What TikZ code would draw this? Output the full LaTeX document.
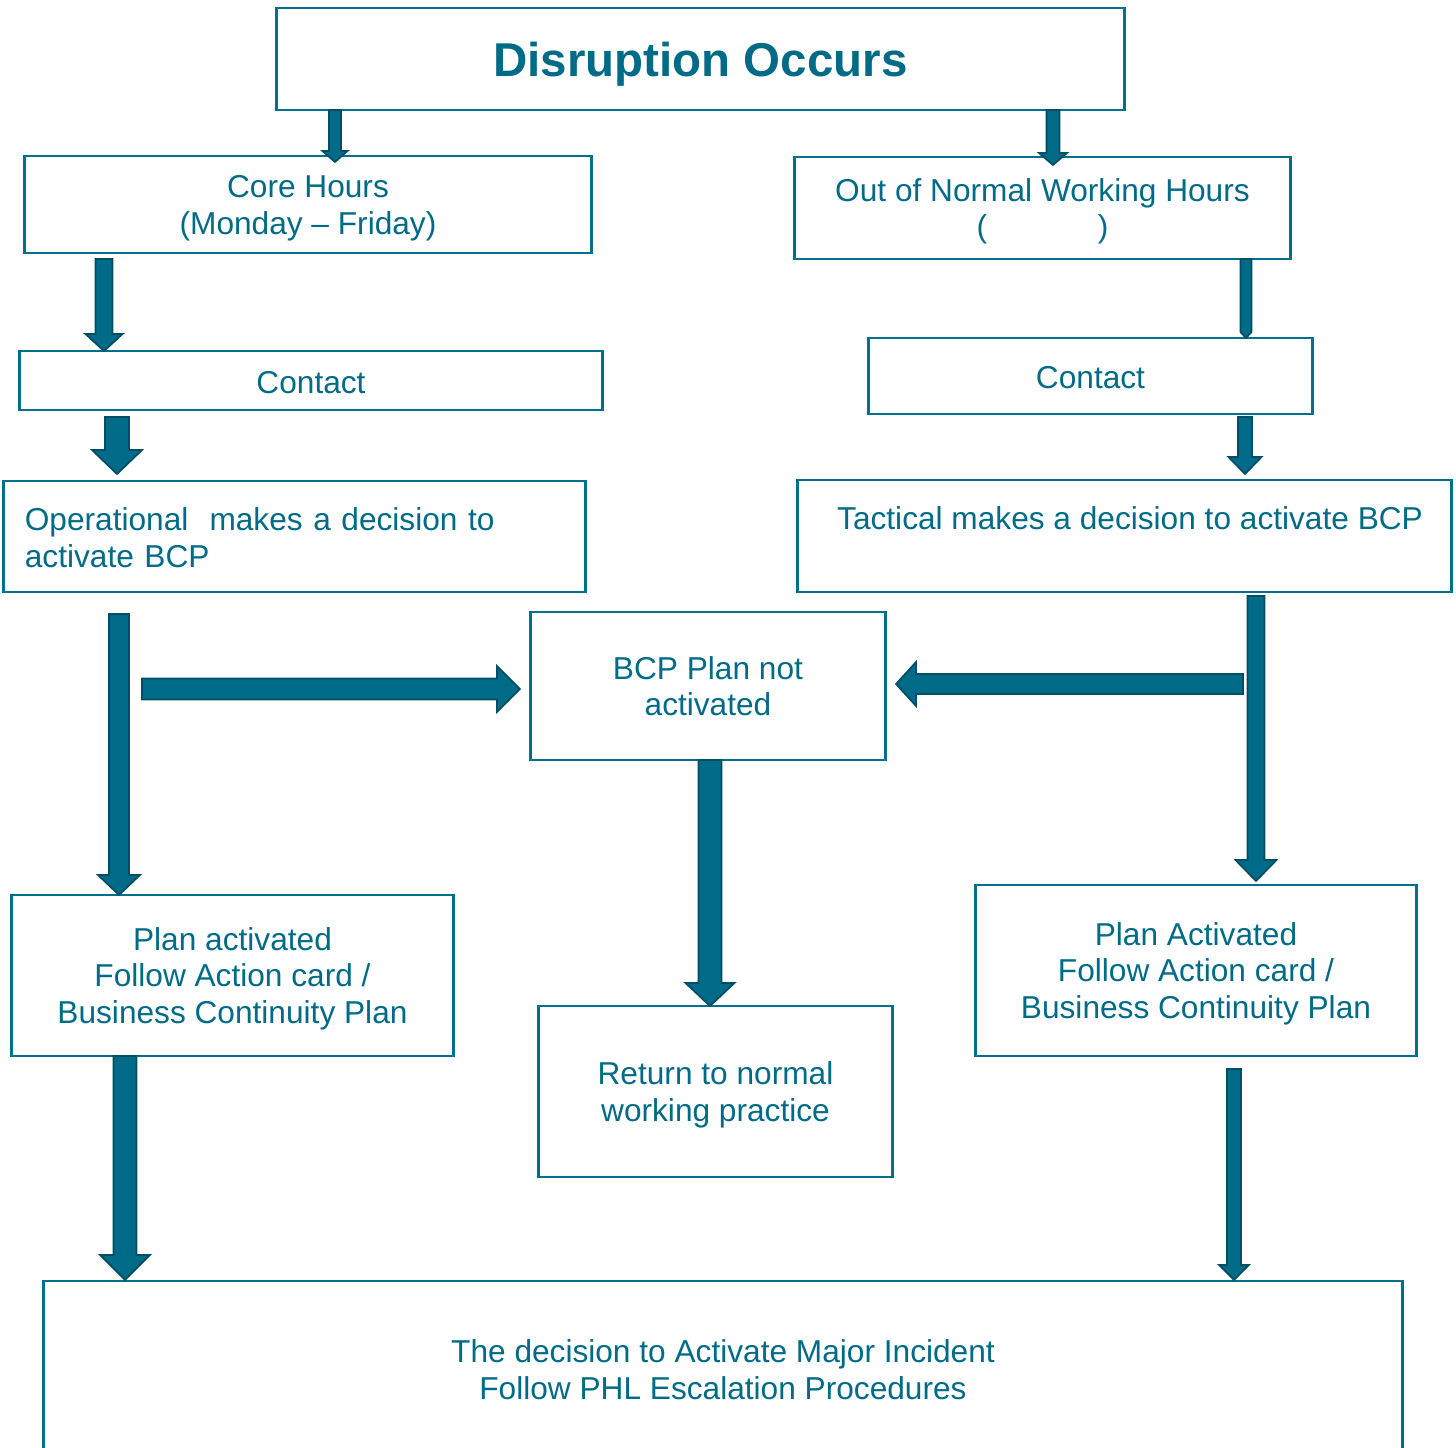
\documentclass[tikz,border=0pt]{standalone}
\usepackage{fontspec}
\setmainfont{Liberation Sans}
\usetikzlibrary{calc}
\definecolor{fline}{RGB}{0,112,140}
\definecolor{ftext}{RGB}{0,107,135}
\definecolor{ffill}{RGB}{0,106,137}
\definecolor{fedge}{RGB}{0,78,100}
\tikzset{
  fbox/.style={draw=fline,line width=0.8pt,text=ftext,inner sep=0pt,outer sep=0pt,
    align=center,font=\fontsize{9}{10.5}\selectfont,
    execute at begin node={\rule{0pt}{7.3pt}}},
  fdown/.style={text depth=-0.95pt},
  ftitle/.style={fbox,font=\bfseries\fontsize{13.5}{16}\selectfont,
    execute at begin node={\rule{0pt}{12.6pt}}},
  farrow/.style={fill=ffill,draw=fedge,line width=0.5pt,line join=miter},
}
% block arrow: start, tip, shaft width, head width, head length (all in px)
\newcommand{\barrow}[5]{%
  \coordinate (ba) at (#1);
  \coordinate (bt) at (#2);
  \coordinate (bh) at ($(bt)!#5*0.28453pt!(ba)$);
  \filldraw[farrow] ($(ba)!#3*0.142265pt!90:(bt)$) -- ($(bh)!#3*0.142265pt!90:(bt)$)
    -- ($(bh)!#4*0.142265pt!90:(bt)$) -- (bt) -- ($(bh)!#4*0.142265pt!-90:(bt)$)
    -- ($(bh)!#3*0.142265pt!-90:(bt)$) -- ($(ba)!#3*0.142265pt!-90:(bt)$) -- cycle;}

\begin{document}
\begin{tikzpicture}[x=0.01cm,y=-0.01cm]
  \useasboundingbox (0,0) rectangle (1456,1448);
  \node[ftitle,minimum width=8.47cm,minimum height=1.02cm] (top) at (700.5,59) {Disruption Occurs};
  \node[fbox,fdown,minimum width=5.66cm,minimum height=0.97cm] (core) at (308,204.5)
    {Core Hours\\(Monday – Friday)};
  \node[fbox,fdown,minimum width=4.95cm,minimum height=1.02cm] (outh) at (1042.5,208)
    {Out of Normal Working Hours\\(\hspace{3.5em})};
  \node[fbox,minimum width=5.82cm,minimum height=0.59cm] (contl) at (311,380.5) {Contact};
  \node[fbox,minimum width=4.43cm,minimum height=0.76cm] (contr) at (1090.5,376) {Contact};
  \node[fbox,minimum width=5.81cm,minimum height=1.11cm,text width=5.39cm,align=left]
    (oper) at (294.5,536.5) {Operational\ \ makes a decision to\\activate BCP};
  \node[fbox,minimum width=6.53cm,minimum height=1.12cm] (tact) at (1124.5,536)
    {\hspace{0.35em}Tactical makes a decision to activate BCP\\\mbox{}};
  \node[fbox,fdown,minimum width=3.54cm,minimum height=1.48cm] (bcp) at (708,686)
    {BCP Plan not\\activated};
  \node[fbox,fdown,minimum width=4.41cm,minimum height=1.61cm] (plan1) at (232.5,975.5)
    {Plan activated\\Follow Action card /\\Business Continuity Plan};
  \node[fbox,fdown,minimum width=3.53cm,minimum height=1.71cm] (ret) at (715.5,1091.5)
    {Return to normal\\working practice};
  \node[fbox,fdown,minimum width=4.40cm,minimum height=1.71cm] (plan2) at (1196,970.5)
    {Plan Activated\\Follow Action card /\\Business Continuity Plan};
  \node[fbox,minimum width=13.58cm,minimum height=1.78cm] (fin) at (723,1370)
    {The decision to Activate Major Incident\\Follow PHL Escalation Procedures};
  % arrows
  \barrow{335,0 |- top.south}{$(335,0 |- core.north)+(0,6)$}{12}{25}{11}
  \barrow{1053,0 |- top.south}{$(1053,0 |- outh.north)+(0,8)$}{13}{28}{12}
  \barrow{$(104,0 |- core.south)+(0,6)$}{104,0 |- contl.north}{17}{37}{17}
  \barrow{1246,0 |- outh.south}{1246,0 |- contr.north}{11}{11}{6}
  \barrow{$(117,0 |- contl.south)+(0,7)$}{$(117,0 |- oper.north)+(0,-7)$}{24}{50}{24}
  \barrow{$(1245,0 |- contr.south)+(0,3)$}{$(1245,0 |- tact.north)+(0,-6)$}{14}{33}{17}
  \barrow{$(119,0 |- oper.south)+(0,22)$}{119,0 |- plan1.north}{20}{42}{20}
  \coordinate (hl) at (142,689);
  \coordinate (hr) at (1243,684);
  \barrow{hl}{$(bcp.west |- hl)+(-11,0)$}{21}{46}{23}
  \barrow{hr}{$(bcp.east |- hr)+(11,0)$}{20}{44}{20}
  \barrow{$(1256,0 |- tact.south)+(0,4)$}{$(1256,0 |- plan2.north)+(0,-4)$}{17}{41}{21}
  \barrow{710,0 |- bcp.south}{710,0 |- ret.north}{23}{49}{23}
  \barrow{125,0 |- plan1.south}{$(125,0 |- fin.north)+(0,-1)$}{23}{50}{25}
  \barrow{$(1234,0 |- plan2.south)+(0,13)$}{$(1234,0 |- fin.north)+(0,-1)$}{14}{30}{15}
\end{tikzpicture}
\end{document}
